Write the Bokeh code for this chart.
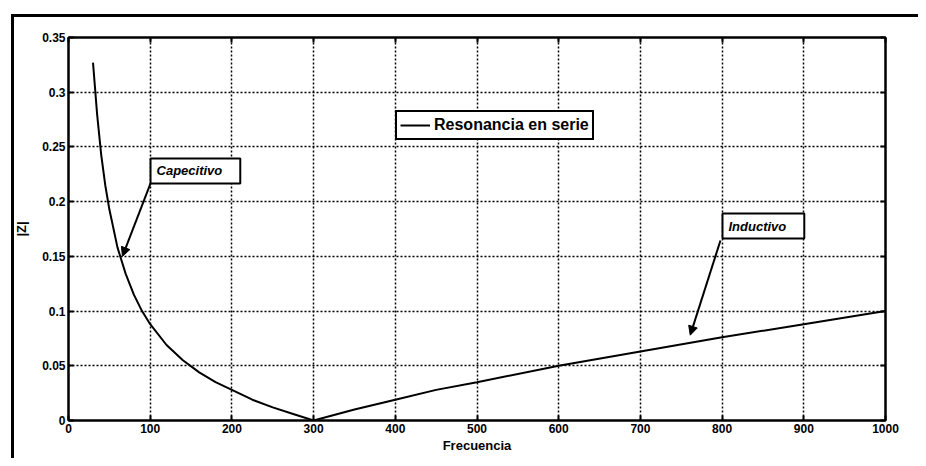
from bokeh.plotting import figure
from bokeh.models import (LinearAxis, Range1d, Label, Arrow, NormalHead,
                          Legend, LegendItem, FixedTicker)
from bokeh.embed import file_html
from bokeh.resources import INLINE

# ---- data ----
freq = [30, 35, 40, 45, 50, 60, 70, 80, 90, 100, 120, 140, 160, 180, 200, 225, 250, 275,
        300, 325, 350, 400, 450, 500, 600, 700, 800, 900, 1000]
z_mag = [0.327, 0.280, 0.243, 0.215, 0.193, 0.158, 0.134, 0.115, 0.100, 0.088, 0.069, 0.055,
         0.044, 0.035, 0.028, 0.019, 0.012, 0.006, 0.0, 0.005, 0.010, 0.019, 0.028, 0.035,
         0.050, 0.063, 0.076, 0.088, 0.100]
x_ticks = [0, 100, 200, 300, 400, 500, 600, 700, 800, 900, 1000]
y_ticks = [0, 0.05, 0.1, 0.15, 0.2, 0.25, 0.3, 0.35]
y_tick_labels = ["0", "0.05", "0.1", "0.15", "0.2", "0.25", "0.3", "0.35"]
series_name = "Resonancia en serie"
x_title = "Frecuencia"
y_title = "|Z|"
notes = ["Capecitivo", "Inductivo"]
note_box_xy = [(100.4, 0.2395), (800.5, 0.1891)]   # top-left of each text box
note_arrow_start = [(100.4, 0.2166), (798.0, 0.1645)]
note_arrow_end = [(66.0, 0.150), (761.0, 0.078)]

FONT = "Liberation Sans"

p = figure(width=918, height=458, output_backend="svg", toolbar_location=None,
           x_range=Range1d(0, 1000), y_range=Range1d(0, 0.35),
           min_border_left=68, min_border_right=33, min_border_top=37, min_border_bottom=38,
           background_fill_color="white", border_fill_color=None)

# outer page frame (top and left edges) drawn as the element's CSS background
p.styles = {
    "background": ("linear-gradient(#000, #000) 11px 14px / 3px calc(100% - 14px) no-repeat, "
                   "linear-gradient(#000, #000) 11px 14px / calc(100% - 11px) 3px no-repeat, "
                   "#ffffff"),
}

p.outline_line_color = "black"
p.outline_line_width = 2

# main curve
r = p.line(freq, z_mag, line_color="black", line_width=2)

def style_axis(ax, show_labels):
    ax.axis_line_color = "black"
    ax.axis_line_width = 2
    ax.major_tick_in = 5
    ax.major_tick_out = 0
    ax.major_tick_line_color = "black"
    ax.major_tick_line_width = 2
    ax.minor_tick_line_color = None
    ax.major_label_text_font = FONT
    ax.major_label_text_font_style = "bold"
    ax.major_label_text_font_size = "12px" if show_labels else "0px"
    ax.major_label_text_color = "black"
    ax.major_label_standoff = 3
    ax.axis_label_text_font = FONT
    ax.axis_label_text_font_style = "bold"
    ax.axis_label_text_font_size = "13px"
    ax.axis_label_text_color = "black"

xax = p.xaxis[0]
yax = p.yaxis[0]
xax.ticker = FixedTicker(ticks=x_ticks)
yax.ticker = FixedTicker(ticks=y_ticks)
yax.major_label_overrides = {t: s for t, s in zip(y_ticks, y_tick_labels)}
xax.axis_label = x_title
yax.axis_label = y_title
style_axis(xax, True)
style_axis(yax, True)
xax.axis_label_standoff = 2
yax.axis_label_standoff = 10

top_ax = LinearAxis(ticker=FixedTicker(ticks=x_ticks))
right_ax = LinearAxis(ticker=FixedTicker(ticks=y_ticks))
style_axis(top_ax, False)
style_axis(right_ax, False)
top_ax.major_label_text_alpha = 0
right_ax.major_label_text_alpha = 0
p.add_layout(top_ax, "above")
p.add_layout(right_ax, "right")

# grid
for g in (p.xgrid[0], p.ygrid[0]):
    g.grid_line_color = "black"
    g.grid_line_width = 1.5
    g.grid_line_dash = "2 2"
    g.grid_line_alpha = 1.0
p.xgrid[0].ticker = FixedTicker(ticks=x_ticks)
p.ygrid[0].ticker = FixedTicker(ticks=y_ticks)

# legend
legend = Legend(items=[LegendItem(label=series_name, renderers=[r])],
                location=(327, 280), orientation="vertical")
legend.label_text_font = FONT
legend.label_text_font_style = "bold"
legend.label_text_font_size = "16px"
legend.label_text_color = "black"
legend.glyph_width = 30
legend.label_standoff = 4
legend.padding = 3
legend.margin = 0
legend.border_line_color = "black"
legend.border_line_alpha = 1.0
legend.border_line_width = 2
legend.background_fill_color = "white"
legend.background_fill_alpha = 1
p.add_layout(legend, "center")

# annotations with arrows
for txt, (bx, by), (sx, sy), (ex, ey) in zip(notes, note_box_xy, note_arrow_start, note_arrow_end):
    p.add_layout(Arrow(x_start=sx, y_start=sy, x_end=ex, y_end=ey,
                       line_color="black", line_width=2,
                       end=NormalHead(size=9, fill_color="black", line_color="black")))
    p.add_layout(Label(x=bx, y=by, text=txt, anchor="top_left",
                       text_font=FONT, text_font_style="bold italic", text_font_size="13px",
                       text_color="black",
                       padding=dict(left=6, right=18, top=5, bottom=5),
                       border_line_color="black", border_line_width=2,
                       background_fill_color="white"))

open("out.html", "w").write(file_html(p, INLINE))
